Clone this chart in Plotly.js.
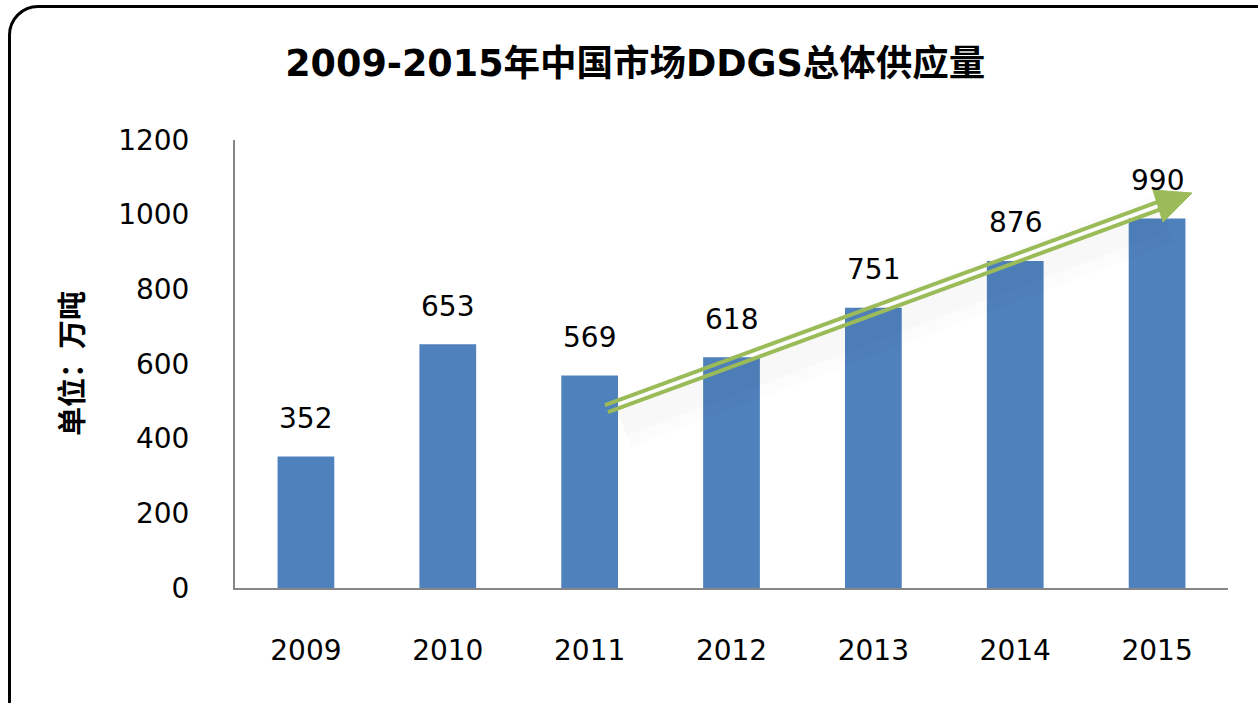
<!DOCTYPE html>
<html>
<head>
<meta charset="utf-8">
<script src="https://cdn.plot.ly/plotly-3.0.1.min.js"></script>
<style>
    body { margin: 0; background: #fff; overflow: hidden; }
    #chart { width: 1258px; height: 703px; }
    #frame {
        position: absolute; left: 8px; top: 5px; width: 1280px; height: 730px;
        border: 3px solid #000; border-radius: 30px; pointer-events: none;
    }
</style>
</head>
<body>
<div id="chart"></div>
<div id="frame"></div>
<script>
const years = ['2009', '2010', '2011', '2012', '2013', '2014', '2015'];
const supply = [352, 653, 569, 618, 751, 876, 990];

// trend arrow, in data units (x = bar index, y = 万吨)
const arrowUpper = [[2.108, 490], [6.035, 1038]];
const arrowLower = [[2.129, 471], [6.056, 1019]];
const arrowHead = [[5.971, 1066], [6.246, 1058], [6.042, 980]];

const font = '"DejaVu Sans", "Noto Sans CJK SC", sans-serif';
const barIdx = years.map((y, i) => i);

const traces = [
    {
        x: barIdx,
        y: supply,
        type: 'bar',
        width: 0.4,
        marker: { color: '#4F81BD' },
        hoverinfo: 'skip',
    },
];

const annotations = supply.map((v, i) => ({
    x: i,
    y: v,
    text: String(v),
    showarrow: false,
    yanchor: 'middle',
    yshift: 38,
    font: { family: font, size: 28, color: '#000' },
}));

annotations.push({
    xref: 'paper',
    yref: 'paper',
    x: 0,
    y: 0.5,
    xanchor: 'center',
    yanchor: 'middle',
    xshift: -165,
    text: '<b>单位：万吨</b>',
    textangle: -90,
    showarrow: false,
    font: { family: '"Noto Sans CJK SC", sans-serif', size: 29, color: '#000' },
});

function seg(p, q, color, width) {
    return {
        type: 'line', xref: 'x', yref: 'y',
        x0: p[0], y0: p[1], x1: q[0], y1: q[1],
        line: { color: color, width: width },
    };
}

const shadowDrop = 30;
const shapes = [
    seg([arrowLower[0][0] + 0.1, arrowLower[0][1] - shadowDrop], [arrowLower[1][0], arrowLower[1][1] - shadowDrop], 'rgba(0,0,0,0.012)', 50),
    seg([arrowLower[0][0] + 0.1, arrowLower[0][1] - shadowDrop], [arrowLower[1][0], arrowLower[1][1] - shadowDrop], 'rgba(0,0,0,0.015)', 26),
    seg(arrowUpper[0], arrowUpper[1], '#9BBB59', 4),
    seg(arrowLower[0], arrowLower[1], '#9BBB59', 4),
    {
        type: 'path', xref: 'x', yref: 'y',
        path: 'M' + arrowHead.map(p => p[0] + ',' + p[1]).join(' L') + ' Z',
        fillcolor: '#9BBB59',
        line: { color: '#9BBB59', width: 1 },
    },
];

const layout = {
    width: 1258,
    height: 703,
    paper_bgcolor: '#fff',
    plot_bgcolor: '#fff',
    margin: { t: 140, l: 235, r: 30, b: 115 },
    showlegend: false,
    title: {
        text: '<b>2009-2015年中国市场DDGS总体供应量</b>',
        font: { family: font, size: 36.5, color: '#000' },
        x: 0.505,
        xanchor: 'center',
        y: 0.91,
        yanchor: 'middle',
    },
    xaxis: {
        range: [-0.5, 6.5],
        tickvals: barIdx,
        ticktext: years,
        showgrid: false,
        zeroline: false,
        showline: true,
        linecolor: '#868686',
        linewidth: 2,
        ticks: 'outside',
        ticklen: 36,
        tickcolor: 'rgba(0,0,0,0)',
        tickfont: { family: font, size: 28, color: '#000' },
        fixedrange: true,
    },
    yaxis: {
        range: [0, 1200],
        tickvals: [0, 200, 400, 600, 800, 1000, 1200],
        showgrid: false,
        zeroline: false,
        showline: true,
        linecolor: '#868686',
        linewidth: 2,
        ticks: 'outside',
        ticklen: 38,
        tickcolor: 'rgba(0,0,0,0)',
        tickfont: { family: font, size: 28, color: '#000' },
        fixedrange: true,
    },
    shapes: shapes,
    annotations: annotations,
};

Plotly.newPlot('chart', traces, layout, { displayModeBar: false, staticPlot: true });
</script>
</body>
</html>
